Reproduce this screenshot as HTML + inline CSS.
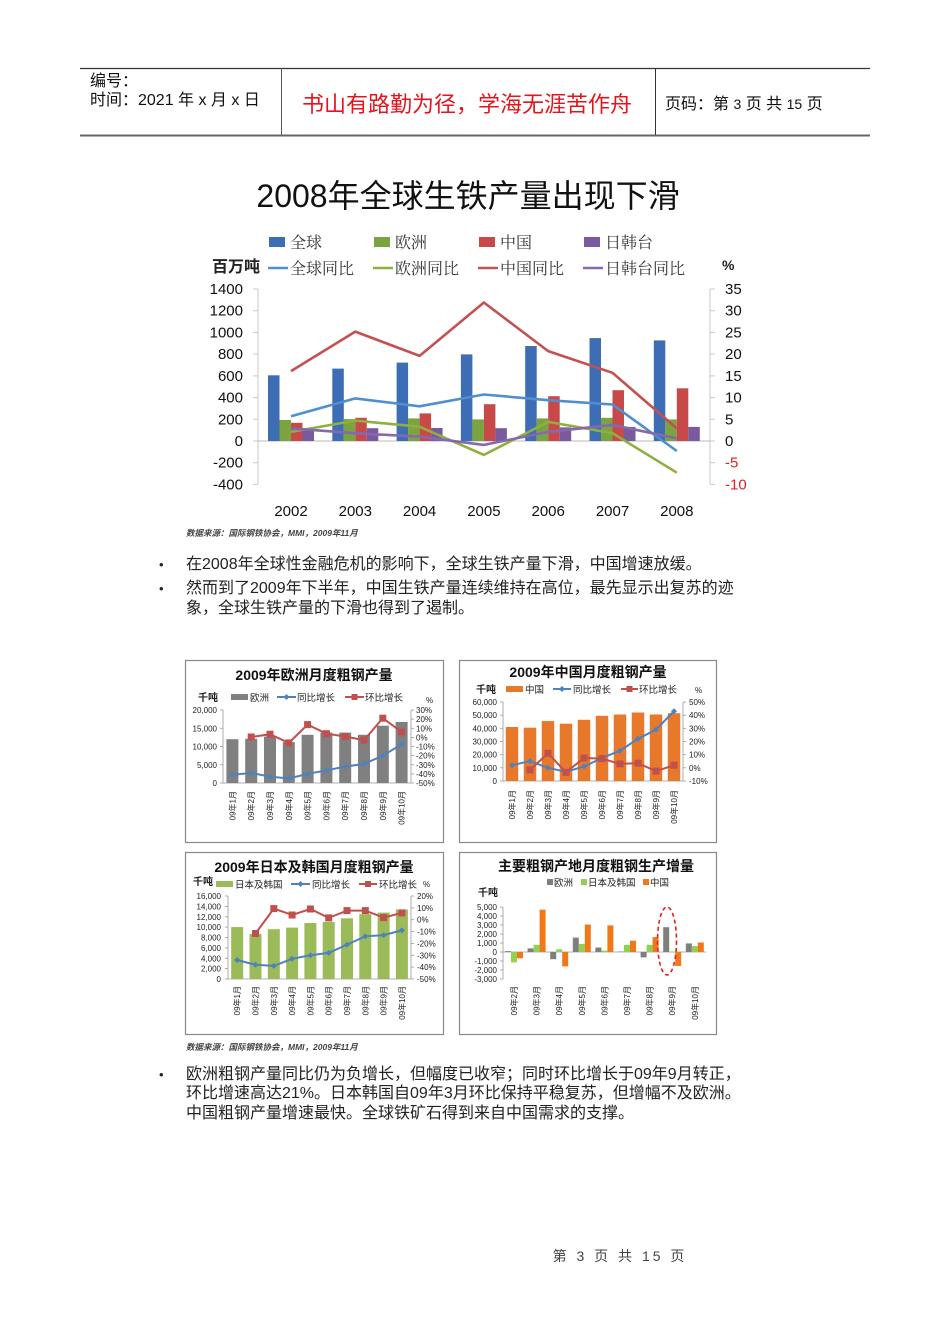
<!DOCTYPE html>
<html><head><meta charset="utf-8"><style>
html,body{margin:0;padding:0;background:#fff;}
svg{display:block;}
.s{font-family:"Liberation Sans","Noto Sans CJK SC",sans-serif;}
.sf{font-family:"Liberation Sans","Noto Serif CJK SC",serif;}
</style></head><body>
<svg width="950" height="1344" viewBox="0 0 950 1344" xmlns="http://www.w3.org/2000/svg" class="s">
<rect width="950" height="1344" fill="#fff"/>
<!-- header -->
<line x1="80" y1="68.5" x2="870" y2="68.5" stroke="#333" stroke-width="1.3"/>
<line x1="80" y1="135.5" x2="870" y2="135.5" stroke="#666" stroke-width="2"/>
<line x1="281.5" y1="68" x2="281.5" y2="135" stroke="#555" stroke-width="1"/>
<line x1="655.5" y1="68" x2="655.5" y2="135" stroke="#333" stroke-width="1"/>
<text x="90" y="86" font-size="16" fill="#111">编号：</text>
<text x="90" y="105" font-size="16" fill="#111">时间：2021 年 x 月 x 日</text>
<text x="302" y="112" font-size="22" fill="#e3141c">书山有路勤为径，学海无涯苦作舟</text>
<text x="665" y="109" font-size="16" fill="#111">页码：第 <tspan font-size="14">3</tspan> 页 共 <tspan font-size="14">15</tspan> 页</text>

<!-- main chart title -->
<text x="468" y="207" font-size="32" text-anchor="middle" fill="#111">2008年全球生铁产量出现下滑</text>
<!-- legend -->
<g class="sf" font-size="16" fill="#333">
<rect x="269" y="237" width="16" height="10" fill="#3d6db5"/><text x="290" y="248">全球</text>
<rect x="374" y="237" width="16" height="10" fill="#7ba33f"/><text x="395" y="248">欧洲</text>
<rect x="479" y="237" width="16" height="10" fill="#c84a48"/><text x="500" y="248">中国</text>
<rect x="584" y="237" width="16" height="10" fill="#7a5a9e"/><text x="605" y="248">日韩台</text>
<line x1="268" y1="268" x2="288" y2="268" stroke="#4f8fd0" stroke-width="2.5"/><text x="290" y="274">全球同比</text>
<line x1="373" y1="268" x2="393" y2="268" stroke="#8db03e" stroke-width="2.5"/><text x="395" y="274">欧洲同比</text>
<line x1="478" y1="268" x2="498" y2="268" stroke="#c65050" stroke-width="2.5"/><text x="500" y="274">中国同比</text>
<line x1="583" y1="268" x2="603" y2="268" stroke="#8668b0" stroke-width="2.5"/><text x="605" y="274">日韩台同比</text>
</g>
<text x="212" y="272" font-size="16" font-weight="bold" fill="#222">百万吨</text>
<text x="722" y="270" font-size="14" font-weight="bold" fill="#222">%</text>
<!-- axes -->
<g stroke="#c8c8c8" stroke-width="1">
<line x1="258" y1="289" x2="258" y2="484.4"/>
<line x1="710" y1="289" x2="710" y2="484.4"/>
<line x1="258" y1="441" x2="710" y2="441" stroke="#bbb"/>
<line x1="253" y1="289" x2="258" y2="289"/><line x1="253" y1="310.7" x2="258" y2="310.7"/><line x1="253" y1="332.4" x2="258" y2="332.4"/><line x1="253" y1="354.1" x2="258" y2="354.1"/><line x1="253" y1="375.9" x2="258" y2="375.9"/><line x1="253" y1="397.6" x2="258" y2="397.6"/><line x1="253" y1="419.3" x2="258" y2="419.3"/><line x1="253" y1="441" x2="258" y2="441"/><line x1="253" y1="462.7" x2="258" y2="462.7"/><line x1="253" y1="484.4" x2="258" y2="484.4"/>
<line x1="710" y1="289" x2="715" y2="289"/><line x1="710" y1="310.7" x2="715" y2="310.7"/><line x1="710" y1="332.4" x2="715" y2="332.4"/><line x1="710" y1="354.1" x2="715" y2="354.1"/><line x1="710" y1="375.9" x2="715" y2="375.9"/><line x1="710" y1="397.6" x2="715" y2="397.6"/><line x1="710" y1="419.3" x2="715" y2="419.3"/><line x1="710" y1="441" x2="715" y2="441"/><line x1="710" y1="462.7" x2="715" y2="462.7"/><line x1="710" y1="484.4" x2="715" y2="484.4"/>
</g>
<g font-size="15" fill="#111" text-anchor="end">
<text x="243" y="294">1400</text><text x="243" y="315.7">1200</text><text x="243" y="337.4">1000</text><text x="243" y="359.1">800</text><text x="243" y="380.9">600</text><text x="243" y="402.6">400</text><text x="243" y="424.3">200</text><text x="243" y="446">0</text><text x="243" y="467.7">-200</text><text x="243" y="489.4">-400</text>
</g>
<g font-size="15" fill="#111">
<text x="725" y="294">35</text><text x="725" y="315.7">30</text><text x="725" y="337.4">25</text><text x="725" y="359.1">20</text><text x="725" y="380.9">15</text><text x="725" y="402.6">10</text><text x="725" y="424.3">5</text><text x="725" y="446">0</text><text x="725" y="467.7" fill="#e02020">-5</text><text x="725" y="489.4" fill="#e02020">-10</text>
</g>
<g font-size="15" fill="#111" text-anchor="middle">
<text x="291" y="516">2002</text><text x="355.3" y="516">2003</text><text x="419.6" y="516">2004</text><text x="483.9" y="516">2005</text><text x="548.2" y="516">2006</text><text x="612.5" y="516">2007</text><text x="676.8" y="516">2008</text>
</g>
<!-- bars -->
<g fill="#3d6db5">
<rect x="268" y="375.3" width="11.5" height="65.7"/><rect x="332.3" y="368.6" width="11.5" height="72.4"/><rect x="396.6" y="362.6" width="11.5" height="78.4"/><rect x="460.9" y="354.4" width="11.5" height="86.6"/><rect x="525.2" y="346" width="11.5" height="95"/><rect x="589.5" y="338.1" width="11.5" height="102.9"/><rect x="653.8" y="340.4" width="11.5" height="100.6"/>
</g>
<g fill="#7ba33f">
<rect x="279.5" y="420" width="11.5" height="21"/><rect x="343.8" y="419.1" width="11.5" height="21.9"/><rect x="408.1" y="418.4" width="11.5" height="22.6"/><rect x="472.4" y="419.4" width="11.5" height="21.6"/><rect x="536.7" y="418.4" width="11.5" height="22.6"/><rect x="601" y="417.8" width="11.5" height="23.2"/><rect x="665.3" y="419.4" width="11.5" height="21.6"/>
</g>
<g fill="#c84a48">
<rect x="291" y="422.8" width="11.5" height="18.2"/><rect x="355.3" y="417.8" width="11.5" height="23.2"/><rect x="419.6" y="413.4" width="11.5" height="27.6"/><rect x="483.9" y="404.2" width="11.5" height="36.8"/><rect x="548.2" y="396.2" width="11.5" height="44.8"/><rect x="612.5" y="390.2" width="11.5" height="50.8"/><rect x="676.8" y="388.3" width="11.5" height="52.7"/>
</g>
<g fill="#7a5a9e">
<rect x="302.5" y="428.5" width="11.5" height="12.5"/><rect x="366.8" y="428.2" width="11.5" height="12.8"/><rect x="431.1" y="428" width="11.5" height="13"/><rect x="495.4" y="428.2" width="11.5" height="12.8"/><rect x="559.7" y="427.4" width="11.5" height="13.6"/><rect x="624" y="426.9" width="11.5" height="14.1"/><rect x="688.3" y="426.9" width="11.5" height="14.1"/>
</g>
<!-- lines -->
<g fill="none" stroke-width="2.6" stroke-linejoin="round">
<polyline stroke="#4f8fd0" points="291,416.2 355.3,398.4 419.6,406.3 483.9,394.5 548.2,400.2 612.5,404.5 676.8,451"/>
<polyline stroke="#8db03e" points="291,431.9 355.3,420.6 419.6,426.7 483.9,454.9 548.2,421.9 612.5,433.2 676.8,472.7"/>
<polyline stroke="#c65050" points="291,371.1 355.3,331.6 419.6,355.9 483.9,302.5 548.2,351.1 612.5,372.8 676.8,428.4"/>
<polyline stroke="#8668b0" points="291,428.4 355.3,433.2 419.6,436.7 483.9,444.9 548.2,431.9 612.5,424.9 676.8,438.4"/>
</g>
<text x="186" y="536" font-size="8.5" font-style="italic" font-weight="bold" fill="#444">数据来源：国际钢铁协会，MMI，2009年11月</text>

<!-- bullets top -->
<g font-size="16" fill="#222">
<text x="159" y="569" font-size="13">•</text>
<text x="186" y="569">在2008年全球性金融危机的影响下，全球生铁产量下滑，中国增速放缓。</text>
<text x="159" y="593" font-size="13">•</text>
<text x="186" y="593">然而到了2009年下半年，中国生铁产量连续维持在高位，最先显示出复苏的迹</text>
<text x="186" y="613">象，全球生铁产量的下滑也得到了遏制。</text>
</g>

<!-- ============ Chart 1 Europe ============ -->
<rect x="185.5" y="660.5" width="258" height="182" fill="#fff" stroke="#888" stroke-width="1.2"/>
<text x="314" y="680" font-size="14" font-weight="bold" text-anchor="middle" fill="#111">2009年欧洲月度粗钢产量</text>
<g font-size="9.5" fill="#222">
<text x="198" y="701" font-weight="bold" font-size="10">千吨</text>
<rect x="231" y="694" width="17" height="6" fill="#808080"/><text x="250" y="701">欧洲</text>
<line x1="277" y1="697" x2="296" y2="697" stroke="#4f81bd" stroke-width="2"/><polygon points="286.5,694 289.5,697 286.5,700 283.5,697" fill="#4f81bd"/><text x="297" y="701">同比增长</text>
<line x1="345" y1="697" x2="364" y2="697" stroke="#c0504d" stroke-width="2"/><rect x="351.5" y="694" width="6" height="6" fill="#c0504d"/><text x="365" y="701">环比增长</text>
<text x="426" y="703" font-size="8">%</text>
</g>
<g stroke="#999" stroke-width="0.8">
<line x1="223" y1="710" x2="223" y2="783"/><line x1="411" y1="710" x2="411" y2="783"/><line x1="223" y1="783" x2="411" y2="783"/>
<line x1="220" y1="710" x2="223" y2="710"/><line x1="220" y1="728.25" x2="223" y2="728.25"/><line x1="220" y1="746.5" x2="223" y2="746.5"/><line x1="220" y1="764.75" x2="223" y2="764.75"/><line x1="220" y1="783" x2="223" y2="783"/>
<line x1="411" y1="710" x2="414" y2="710"/><line x1="411" y1="719.1" x2="414" y2="719.1"/><line x1="411" y1="728.3" x2="414" y2="728.3"/><line x1="411" y1="737.4" x2="414" y2="737.4"/><line x1="411" y1="746.5" x2="414" y2="746.5"/><line x1="411" y1="755.6" x2="414" y2="755.6"/><line x1="411" y1="764.8" x2="414" y2="764.8"/><line x1="411" y1="773.9" x2="414" y2="773.9"/><line x1="411" y1="783" x2="414" y2="783"/>
</g>
<g font-size="8" fill="#222" text-anchor="end">
<text x="217" y="713">20,000</text><text x="217" y="731.25">15,000</text><text x="217" y="749.5">10,000</text><text x="217" y="767.75">5,000</text><text x="217" y="786">0</text>
</g>
<g font-size="8" fill="#222">
<text x="416" y="713">30%</text><text x="416" y="722.1">20%</text><text x="416" y="731.3">10%</text><text x="416" y="740.4">0%</text><text x="416" y="749.5">-10%</text><text x="416" y="758.6">-20%</text><text x="416" y="767.8">-30%</text><text x="416" y="776.9">-40%</text><text x="416" y="786">-50%</text>
</g>
<g fill="#808080">
<rect x="226.4" y="739.2" width="12" height="43.8"/><rect x="245.2" y="738.8" width="12" height="44.2"/><rect x="264" y="736.6" width="12" height="46.4"/><rect x="282.8" y="742.1" width="12" height="40.9"/><rect x="301.6" y="734.8" width="12" height="48.2"/><rect x="320.4" y="732.6" width="12" height="50.4"/><rect x="339.2" y="732.6" width="12" height="50.4"/><rect x="358" y="734.8" width="12" height="48.2"/><rect x="376.8" y="725.7" width="12" height="57.3"/><rect x="395.6" y="722" width="12" height="61"/>
</g>
<polyline fill="none" stroke="#4f81bd" stroke-width="2" points="232.4,774.8 251.2,773 270,776.6 288.8,778.5 307.6,773.9 326.4,770.3 345.2,766.6 364,763.9 382.8,755.7 401.6,744.2"/>
<g fill="#4f81bd">
<polygon points="232.4,771.8 235.4,774.8 232.4,777.8 229.4,774.8"/><polygon points="251.2,770 254.2,773 251.2,776 248.2,773"/><polygon points="270,773.6 273,776.6 270,779.6 267,776.6"/><polygon points="288.8,775.5 291.8,778.5 288.8,781.5 285.8,778.5"/><polygon points="307.6,770.9 310.6,773.9 307.6,776.9 304.6,773.9"/><polygon points="326.4,767.3 329.4,770.3 326.4,773.3 323.4,770.3"/><polygon points="345.2,763.6 348.2,766.6 345.2,769.6 342.2,766.6"/><polygon points="364,760.9 367,763.9 364,766.9 361,763.9"/><polygon points="382.8,752.7 385.8,755.7 382.8,758.7 379.8,755.7"/><polygon points="401.6,741.2 404.6,744.2 401.6,747.2 398.6,744.2"/>
</g>
<polyline fill="none" stroke="#c0504d" stroke-width="2" points="251.2,737 270,734.2 288.8,742.9 307.6,724.6 326.4,733.7 345.2,736.5 364,740.1 382.8,718.2 401.6,731.9"/>
<g fill="#c0504d">
<rect x="247.7" y="733.5" width="7" height="7"/><rect x="266.5" y="730.7" width="7" height="7"/><rect x="285.3" y="739.4" width="7" height="7"/><rect x="304.1" y="721.1" width="7" height="7"/><rect x="322.9" y="730.2" width="7" height="7"/><rect x="341.7" y="733" width="7" height="7"/><rect x="360.5" y="736.6" width="7" height="7"/><rect x="379.3" y="714.7" width="7" height="7"/><rect x="398.1" y="728.4" width="7" height="7"/>
</g>
<g font-size="8" fill="#222" text-anchor="end">
<text transform="translate(235.4,791) rotate(-90)">09年1月</text><text transform="translate(254.2,791) rotate(-90)">09年2月</text><text transform="translate(273,791) rotate(-90)">09年3月</text><text transform="translate(291.8,791) rotate(-90)">09年4月</text><text transform="translate(310.6,791) rotate(-90)">09年5月</text><text transform="translate(329.4,791) rotate(-90)">09年6月</text><text transform="translate(348.2,791) rotate(-90)">09年7月</text><text transform="translate(367,791) rotate(-90)">09年8月</text><text transform="translate(385.8,791) rotate(-90)">09年9月</text><text transform="translate(404.6,791) rotate(-90)">09年10月</text>
</g>

<!-- ============ Chart 2 China ============ -->
<rect x="459.5" y="660.5" width="257" height="182" fill="#fff" stroke="#888" stroke-width="1.2"/>
<text x="588" y="677" font-size="14" font-weight="bold" text-anchor="middle" fill="#111">2009年中国月度粗钢产量</text>
<g font-size="9.5" fill="#222">
<text x="476" y="693" font-weight="bold" font-size="10">千吨</text>
<rect x="506" y="686" width="17" height="6" fill="#e8782a"/><text x="525" y="693">中国</text>
<line x1="553" y1="689" x2="571" y2="689" stroke="#4f81bd" stroke-width="2"/><polygon points="562,686 565,689 562,692 559,689" fill="#4f81bd"/><text x="573" y="693">同比增长</text>
<line x1="621" y1="689" x2="638" y2="689" stroke="#c0504d" stroke-width="2"/><rect x="626.5" y="686" width="6" height="6" fill="#c0504d"/><text x="639" y="693">环比增长</text>
<text x="695" y="693" font-size="8">%</text>
</g>
<g stroke="#999" stroke-width="0.8">
<line x1="503" y1="702" x2="503" y2="781"/><line x1="683" y1="702" x2="683" y2="781"/><line x1="503" y1="781" x2="683" y2="781"/>
<line x1="500" y1="702" x2="503" y2="702"/><line x1="500" y1="715.2" x2="503" y2="715.2"/><line x1="500" y1="728.3" x2="503" y2="728.3"/><line x1="500" y1="741.5" x2="503" y2="741.5"/><line x1="500" y1="754.7" x2="503" y2="754.7"/><line x1="500" y1="767.8" x2="503" y2="767.8"/><line x1="500" y1="781" x2="503" y2="781"/>
<line x1="683" y1="702" x2="686" y2="702"/><line x1="683" y1="715.2" x2="686" y2="715.2"/><line x1="683" y1="728.3" x2="686" y2="728.3"/><line x1="683" y1="741.5" x2="686" y2="741.5"/><line x1="683" y1="754.7" x2="686" y2="754.7"/><line x1="683" y1="767.8" x2="686" y2="767.8"/><line x1="683" y1="781" x2="686" y2="781"/>
</g>
<g font-size="8" fill="#222" text-anchor="end">
<text x="497" y="705">60,000</text><text x="497" y="718.2">50,000</text><text x="497" y="731.3">40,000</text><text x="497" y="744.5">30,000</text><text x="497" y="757.7">20,000</text><text x="497" y="770.8">10,000</text><text x="497" y="784">0</text>
</g>
<g font-size="8" fill="#222">
<text x="689" y="705">50%</text><text x="689" y="718.2">40%</text><text x="689" y="731.3">30%</text><text x="689" y="744.5">20%</text><text x="689" y="757.7">10%</text><text x="689" y="770.8">0%</text><text x="689" y="784">-10%</text>
</g>
<g fill="#e8782a">
<rect x="505.75" y="727" width="12.5" height="54"/><rect x="523.75" y="727.7" width="12.5" height="53.3"/><rect x="541.75" y="721.1" width="12.5" height="59.9"/><rect x="559.75" y="723.7" width="12.5" height="57.3"/><rect x="577.75" y="719.8" width="12.5" height="61.2"/><rect x="595.75" y="715.8" width="12.5" height="65.2"/><rect x="613.75" y="714.5" width="12.5" height="66.5"/><rect x="631.75" y="712.5" width="12.5" height="68.5"/><rect x="649.75" y="714.5" width="12.5" height="66.5"/><rect x="667.75" y="713.2" width="12.5" height="67.8"/>
</g>
<polyline fill="none" stroke="#4f81bd" stroke-width="2" points="512,765.2 530,761.2 548,767.8 566,771.8 584,766.5 602,758 620,750.7 638,738.8 656,729.6 674,711.2"/>
<g fill="#4f81bd">
<polygon points="512,762.2 515,765.2 512,768.2 509,765.2"/><polygon points="530,758.2 533,761.2 530,764.2 527,761.2"/><polygon points="548,764.8 551,767.8 548,770.8 545,767.8"/><polygon points="566,768.8 569,771.8 566,774.8 563,771.8"/><polygon points="584,763.5 587,766.5 584,769.5 581,766.5"/><polygon points="602,755 605,758 602,761 599,758"/><polygon points="620,747.7 623,750.7 620,753.7 617,750.7"/><polygon points="638,735.8 641,738.8 638,741.8 635,738.8"/><polygon points="656,726.6 659,729.6 656,732.6 653,729.6"/><polygon points="674,708.2 677,711.2 674,714.2 671,711.2"/>
</g>
<polyline fill="none" stroke="#c0504d" stroke-width="2" points="530,769.9 548,753.3 566,772.3 584,758 602,758.6 620,763.9 638,763.2 656,771.2 674,765.2"/>
<g fill="#c0504d">
<rect x="526.5" y="766.4" width="7" height="7"/><rect x="544.5" y="749.8" width="7" height="7"/><rect x="562.5" y="768.8" width="7" height="7"/><rect x="580.5" y="754.5" width="7" height="7"/><rect x="598.5" y="755.1" width="7" height="7"/><rect x="616.5" y="760.4" width="7" height="7"/><rect x="634.5" y="759.7" width="7" height="7"/><rect x="652.5" y="767.7" width="7" height="7"/><rect x="670.5" y="761.7" width="7" height="7"/>
</g>
<g font-size="8" fill="#222" text-anchor="end">
<text transform="translate(515,790) rotate(-90)">09年1月</text><text transform="translate(533,790) rotate(-90)">09年2月</text><text transform="translate(551,790) rotate(-90)">09年3月</text><text transform="translate(569,790) rotate(-90)">09年4月</text><text transform="translate(587,790) rotate(-90)">09年5月</text><text transform="translate(605,790) rotate(-90)">09年6月</text><text transform="translate(623,790) rotate(-90)">09年7月</text><text transform="translate(641,790) rotate(-90)">09年8月</text><text transform="translate(659,790) rotate(-90)">09年9月</text><text transform="translate(677,790) rotate(-90)">09年10月</text>
</g>

<!-- ============ Chart 3 Japan/Korea ============ -->
<rect x="185.5" y="852.5" width="258" height="182" fill="#fff" stroke="#888" stroke-width="1.2"/>
<text x="314" y="872" font-size="14" font-weight="bold" text-anchor="middle" fill="#111">2009年日本及韩国月度粗钢产量</text>
<g font-size="9.5" fill="#222">
<text x="193" y="885" font-weight="bold" font-size="10">千吨</text>
<rect x="216" y="881" width="17" height="6" fill="#9bbb59"/><text x="235" y="888">日本及韩国</text>
<line x1="291" y1="884" x2="310" y2="884" stroke="#4f81bd" stroke-width="2"/><polygon points="300.5,881 303.5,884 300.5,887 297.5,884" fill="#4f81bd"/><text x="312" y="888">同比增长</text>
<line x1="359" y1="884" x2="377" y2="884" stroke="#c0504d" stroke-width="2"/><rect x="365" y="881" width="6" height="6" fill="#c0504d"/><text x="379" y="888">环比增长</text>
<text x="423" y="887" font-size="8">%</text>
</g>
<g stroke="#999" stroke-width="0.8">
<line x1="228" y1="896" x2="228" y2="979"/><line x1="411" y1="896" x2="411" y2="979"/><line x1="228" y1="979" x2="411" y2="979"/>
<line x1="225" y1="896" x2="228" y2="896"/><line x1="225" y1="906.4" x2="228" y2="906.4"/><line x1="225" y1="916.75" x2="228" y2="916.75"/><line x1="225" y1="927.1" x2="228" y2="927.1"/><line x1="225" y1="937.5" x2="228" y2="937.5"/><line x1="225" y1="947.9" x2="228" y2="947.9"/><line x1="225" y1="958.25" x2="228" y2="958.25"/><line x1="225" y1="968.6" x2="228" y2="968.6"/><line x1="225" y1="979" x2="228" y2="979"/>
<line x1="411" y1="896" x2="414" y2="896"/><line x1="411" y1="907.9" x2="414" y2="907.9"/><line x1="411" y1="919.7" x2="414" y2="919.7"/><line x1="411" y1="931.6" x2="414" y2="931.6"/><line x1="411" y1="943.4" x2="414" y2="943.4"/><line x1="411" y1="955.3" x2="414" y2="955.3"/><line x1="411" y1="967.1" x2="414" y2="967.1"/><line x1="411" y1="979" x2="414" y2="979"/>
</g>
<g font-size="8" fill="#222" text-anchor="end">
<text x="221" y="899">16,000</text><text x="221" y="909.4">14,000</text><text x="221" y="919.75">12,000</text><text x="221" y="930.1">10,000</text><text x="221" y="940.5">8,000</text><text x="221" y="950.9">6,000</text><text x="221" y="961.25">4,000</text><text x="221" y="971.6">2,000</text><text x="221" y="982">0</text>
</g>
<g font-size="8" fill="#222">
<text x="417" y="899">20%</text><text x="417" y="910.9">10%</text><text x="417" y="922.7">0%</text><text x="417" y="934.6">-10%</text><text x="417" y="946.4">-20%</text><text x="417" y="958.3">-30%</text><text x="417" y="970.1">-40%</text><text x="417" y="982">-50%</text>
</g>
<g fill="#9bbb59">
<rect x="231.2" y="927.1" width="12" height="51.9"/><rect x="249.5" y="933.9" width="12" height="45.1"/><rect x="267.8" y="929.2" width="12" height="49.8"/><rect x="286.1" y="927.6" width="12" height="51.4"/><rect x="304.4" y="923" width="12" height="56"/><rect x="322.7" y="921.9" width="12" height="57.1"/><rect x="341" y="918.3" width="12" height="60.7"/><rect x="359.3" y="914.2" width="12" height="64.8"/><rect x="377.6" y="912.6" width="12" height="66.4"/><rect x="395.9" y="909.5" width="12" height="69.5"/>
</g>
<polyline fill="none" stroke="#4f81bd" stroke-width="2" points="237.2,960 255.5,964.8 273.8,965.9 292.1,958.8 310.4,955.3 328.7,952.9 347,944.6 365.3,936.3 383.6,935.1 401.9,930.4"/>
<g fill="#4f81bd">
<polygon points="237.2,957 240.2,960 237.2,963 234.2,960"/><polygon points="255.5,961.8 258.5,964.8 255.5,967.8 252.5,964.8"/><polygon points="273.8,962.9 276.8,965.9 273.8,968.9 270.8,965.9"/><polygon points="292.1,955.8 295.1,958.8 292.1,961.8 289.1,958.8"/><polygon points="310.4,952.3 313.4,955.3 310.4,958.3 307.4,955.3"/><polygon points="328.7,949.9 331.7,952.9 328.7,955.9 325.7,952.9"/><polygon points="347,941.6 350,944.6 347,947.6 344,944.6"/><polygon points="365.3,933.3 368.3,936.3 365.3,939.3 362.3,936.3"/><polygon points="383.6,932.1 386.6,935.1 383.6,938.1 380.6,935.1"/><polygon points="401.9,927.4 404.9,930.4 401.9,933.4 398.9,930.4"/>
</g>
<polyline fill="none" stroke="#c0504d" stroke-width="2" points="255.5,933.5 273.8,908.6 292.1,915 310.4,909 328.7,917.9 347,910.6 365.3,910.6 383.6,917.6 401.9,912.9"/>
<g fill="#c0504d">
<rect x="252" y="930" width="7" height="7"/><rect x="270.3" y="905.1" width="7" height="7"/><rect x="288.6" y="911.5" width="7" height="7"/><rect x="306.9" y="905.5" width="7" height="7"/><rect x="325.2" y="914.4" width="7" height="7"/><rect x="343.5" y="907.1" width="7" height="7"/><rect x="361.8" y="907.1" width="7" height="7"/><rect x="380.1" y="914.1" width="7" height="7"/><rect x="398.4" y="909.4" width="7" height="7"/>
</g>
<g font-size="8" fill="#222" text-anchor="end">
<text transform="translate(240.2,986) rotate(-90)">09年1月</text><text transform="translate(258.5,986) rotate(-90)">09年2月</text><text transform="translate(276.8,986) rotate(-90)">09年3月</text><text transform="translate(295.1,986) rotate(-90)">09年4月</text><text transform="translate(313.4,986) rotate(-90)">09年5月</text><text transform="translate(331.7,986) rotate(-90)">09年6月</text><text transform="translate(350,986) rotate(-90)">09年7月</text><text transform="translate(368.3,986) rotate(-90)">09年8月</text><text transform="translate(386.6,986) rotate(-90)">09年9月</text><text transform="translate(404.9,986) rotate(-90)">09年10月</text>
</g>

<!-- ============ Chart 4 increments ============ -->
<rect x="459.5" y="852.5" width="257" height="182" fill="#fff" stroke="#888" stroke-width="1.2"/>
<text x="596" y="871" font-size="14" font-weight="bold" text-anchor="middle" fill="#111">主要粗钢产地月度粗钢生产增量</text>
<g font-size="9.5" fill="#222">
<rect x="547" y="879" width="6" height="6" fill="#7f7f7f"/><text x="554" y="886">欧洲</text>
<rect x="581" y="879" width="6" height="6" fill="#92d050"/><text x="588" y="886">日本及韩国</text>
<rect x="643" y="879" width="6" height="6" fill="#f07818"/><text x="650" y="886">中国</text>
<text x="478" y="896" font-weight="bold" font-size="10">千吨</text>
</g>
<g stroke="#999" stroke-width="0.8">
<line x1="503" y1="907" x2="503" y2="979"/><line x1="503" y1="952" x2="706" y2="952"/>
<line x1="500" y1="907" x2="503" y2="907"/><line x1="500" y1="916" x2="503" y2="916"/><line x1="500" y1="925" x2="503" y2="925"/><line x1="500" y1="934" x2="503" y2="934"/><line x1="500" y1="943" x2="503" y2="943"/><line x1="500" y1="952" x2="503" y2="952"/><line x1="500" y1="961" x2="503" y2="961"/><line x1="500" y1="970" x2="503" y2="970"/><line x1="500" y1="979" x2="503" y2="979"/>
</g>
<g font-size="8" fill="#222" text-anchor="end">
<text x="497" y="910">5,000</text><text x="497" y="919">4,000</text><text x="497" y="928">3,000</text><text x="497" y="937">2,000</text><text x="497" y="946">1,000</text><text x="497" y="955">0</text><text x="497" y="964">-1,000</text><text x="497" y="973">-2,000</text><text x="497" y="982">-3,000</text>
</g>
<g fill="#7f7f7f">
<rect x="505" y="951.1" width="6" height="0.9"/><rect x="527.6" y="948.4" width="6" height="3.6"/><rect x="550.2" y="952" width="6" height="7.2"/><rect x="572.8" y="937.6" width="6" height="14.4"/><rect x="595.4" y="947.5" width="6" height="4.5"/><rect x="618" y="951.5" width="6" height="0.5"/><rect x="640.6" y="952" width="6" height="5.4"/><rect x="663.2" y="927.2" width="6" height="24.8"/><rect x="685.8" y="943.4" width="6" height="8.6"/>
</g>
<g fill="#92d050">
<rect x="511" y="952" width="6" height="10.4"/><rect x="533.6" y="944.8" width="6" height="7.2"/><rect x="556.2" y="949.3" width="6" height="2.7"/><rect x="578.8" y="943.9" width="6" height="8.1"/><rect x="601.4" y="950.6" width="6" height="1.4"/><rect x="624" y="944.8" width="6" height="7.2"/><rect x="646.6" y="944.8" width="6" height="7.2"/><rect x="669.2" y="951.5" width="6" height="0.5"/><rect x="691.8" y="946.1" width="6" height="5.9"/>
</g>
<g fill="#f07818">
<rect x="517" y="952" width="6" height="6.3"/><rect x="539.6" y="909.7" width="6" height="42.3"/><rect x="562.2" y="952" width="6" height="14.4"/><rect x="584.8" y="924.5" width="6" height="27.5"/><rect x="607.4" y="925.4" width="6" height="26.6"/><rect x="630" y="940.7" width="6" height="11.3"/><rect x="652.6" y="937.1" width="6" height="14.9"/><rect x="675.2" y="952" width="6" height="14"/><rect x="697.8" y="942.5" width="6" height="9.5"/>
</g>
<ellipse cx="667" cy="941" rx="9.5" ry="34" fill="none" stroke="#e02020" stroke-width="1.6" stroke-dasharray="4,3"/>
<g font-size="8" fill="#222" text-anchor="end">
<text transform="translate(517,986) rotate(-90)">09年2月</text><text transform="translate(539.6,986) rotate(-90)">09年3月</text><text transform="translate(562.2,986) rotate(-90)">09年4月</text><text transform="translate(584.8,986) rotate(-90)">09年5月</text><text transform="translate(607.4,986) rotate(-90)">09年6月</text><text transform="translate(630,986) rotate(-90)">09年7月</text><text transform="translate(652.6,986) rotate(-90)">09年8月</text><text transform="translate(675.2,986) rotate(-90)">09年9月</text><text transform="translate(697.8,986) rotate(-90)">09年10月</text>
</g>

<text x="186" y="1050" font-size="8.5" font-style="italic" font-weight="bold" fill="#444">数据来源：国际钢铁协会，MMI，2009年11月</text>

<!-- bullets bottom -->
<g font-size="16" fill="#222">
<text x="159" y="1079" font-size="13">•</text>
<text x="186" y="1079">欧洲粗钢产量同比仍为负增长，但幅度已收窄；同时环比增长于09年9月转正，</text>
<text x="186" y="1098">环比增速高达21%。日本韩国自09年3月环比保持平稳复苏，但增幅不及欧洲。</text>
<text x="186" y="1118">中国粗钢产量增速最快。全球铁矿石得到来自中国需求的支撑。</text>
</g>

<!-- footer -->
<text x="620" y="1261" font-size="14" text-anchor="middle" fill="#444" letter-spacing="3">第 3 页 共 15 页</text>
</svg>
</body></html>
